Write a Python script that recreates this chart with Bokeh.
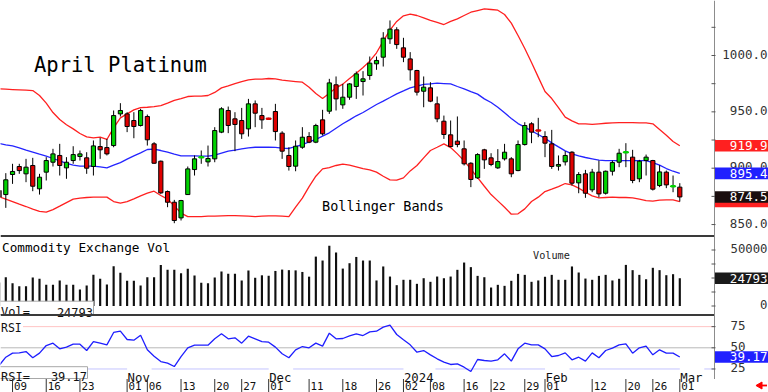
from bokeh.plotting import figure
from bokeh.models import Range1d, ColumnDataSource
from bokeh.core.properties import value
from bokeh.embed import file_html
from bokeh.resources import INLINE

# ---------------- data ----------------
dates = [
    "2023-10-05", "2023-10-06", "2023-10-09", "2023-10-10", "2023-10-11", "2023-10-12", "2023-10-13",
    "2023-10-16", "2023-10-17", "2023-10-18", "2023-10-19", "2023-10-20", "2023-10-23", "2023-10-24",
    "2023-10-25", "2023-10-26", "2023-10-27", "2023-10-30", "2023-10-31",
    "2023-11-01", "2023-11-02", "2023-11-03", "2023-11-06", "2023-11-07", "2023-11-08", "2023-11-09",
    "2023-11-10", "2023-11-13", "2023-11-14", "2023-11-15", "2023-11-16", "2023-11-17", "2023-11-20",
    "2023-11-21", "2023-11-22", "2023-11-24", "2023-11-27", "2023-11-28", "2023-11-29", "2023-11-30",
    "2023-12-01", "2023-12-04", "2023-12-05", "2023-12-06", "2023-12-07", "2023-12-08", "2023-12-11",
    "2023-12-12", "2023-12-13", "2023-12-14", "2023-12-15", "2023-12-18", "2023-12-19", "2023-12-20",
    "2023-12-21", "2023-12-22", "2023-12-26", "2023-12-27", "2023-12-28", "2023-12-29",
    "2024-01-02", "2024-01-03", "2024-01-04", "2024-01-05", "2024-01-08", "2024-01-09", "2024-01-10",
    "2024-01-11", "2024-01-12", "2024-01-16", "2024-01-17", "2024-01-18", "2024-01-19", "2024-01-22",
    "2024-01-23", "2024-01-24", "2024-01-25", "2024-01-26", "2024-01-29", "2024-01-30", "2024-01-31",
    "2024-02-01", "2024-02-02", "2024-02-05", "2024-02-06", "2024-02-07", "2024-02-08", "2024-02-09",
    "2024-02-12", "2024-02-13", "2024-02-14", "2024-02-15", "2024-02-16", "2024-02-20", "2024-02-21",
    "2024-02-22", "2024-02-23", "2024-02-26", "2024-02-27", "2024-02-28", "2024-02-29",
    "2024-03-01",
]

opens = [
    880.2, 876.6, 894.4, 901.5, 895.0, 902.4, 881.7, 896.5, 905.3, 911.3,
    900.3, 906.8, 910.4, 909.2, 901.5, 919.2, 918.3, 920.1, 948.2, 948.2,
    942.3, 937.9, 945.9, 921.6, 906.2, 879.3, 869.8, 855.9, 876.6, 898.8,
    909.5, 905.6, 908.3, 932.0, 951.2, 943.8, 942.3, 934.9, 957.1, 946.7,
    944.0, 950.3, 931.1, 911.3, 901.8, 918.6, 928.1, 923.1, 942.9, 950.6,
    974.0, 956.2, 963.0, 972.5, 976.9, 982.2, 992.6, 998.5, 1014.8, 1022.8,
    1006.8, 997.0, 986.7, 968.3, 971.3, 957.1, 941.7, 929.6, 924.0, 917.2,
    904.4, 891.4, 916.3, 909.2, 900.3, 908.3, 908.3, 897.9, 921.0, 939.4,
    933.6, 928.1, 921.6, 901.8, 905.6, 914.2, 887.0, 895.0, 880.8, 896.5,
    877.8, 897.3, 905.3, 914.0, 909.8, 890.6, 906.8, 906.8, 884.6, 896.5,
    883.8, 883.2,
]
highs = [
    881.7, 895.6, 903.9, 903.9, 908.3, 909.2, 895.0, 909.8, 917.2, 921.6,
    909.8, 919.5, 915.7, 914.2, 924.6, 926.9, 926.0, 951.2, 957.7, 949.7,
    949.7, 952.7, 947.6, 923.1, 906.8, 880.2, 871.9, 871.9, 901.5, 911.3,
    915.7, 920.1, 936.4, 954.1, 954.7, 949.7, 953.5, 961.5, 960.1, 953.5,
    944.8, 957.1, 932.8, 918.6, 924.6, 936.4, 932.0, 939.4, 951.8, 979.3,
    981.4, 974.8, 975.4, 985.8, 986.1, 999.1, 999.1, 1020.7, 1031.1, 1025.1,
    1015.7, 1003.0, 987.3, 981.4, 976.3, 963.6, 946.7, 942.3, 945.9, 924.6,
    905.3, 913.3, 917.2, 913.3, 916.9, 921.6, 909.8, 924.6, 940.8, 940.8,
    944.7, 932.8, 934.0, 911.3, 915.1, 915.1, 896.5, 898.5, 899.4, 906.8,
    897.9, 906.8, 917.2, 922.2, 916.3, 907.4, 912.1, 907.4, 902.7, 897.9,
    893.5, 886.7,
]
lows = [
    872.8, 864.8, 886.1, 895.0, 887.6, 879.6, 876.6, 889.1, 901.5, 893.5,
    890.6, 903.9, 906.8, 895.0, 893.5, 908.3, 911.3, 918.6, 945.9, 932.0,
    926.6, 937.0, 920.1, 903.9, 877.2, 865.4, 851.2, 853.6, 876.3, 893.5,
    903.9, 901.5, 905.3, 931.1, 931.1, 915.1, 926.0, 928.1, 936.4, 934.9,
    943.0, 924.6, 908.3, 897.9, 897.3, 917.2, 922.2, 922.2, 929.0, 948.2,
    951.2, 952.7, 960.7, 961.5, 964.5, 978.4, 987.3, 990.2, 1010.3, 1005.9,
    994.1, 977.8, 964.5, 954.1, 958.6, 940.8, 926.0, 918.6, 918.6, 902.4,
    883.2, 890.6, 899.4, 901.8, 899.4, 906.8, 892.0, 897.3, 920.1, 922.2,
    927.5, 909.8, 899.4, 897.9, 902.4, 884.6, 877.8, 873.7, 878.7, 874.3,
    876.6, 893.5, 900.9, 900.9, 886.7, 887.6, 893.5, 880.2, 883.2, 882.3,
    878.7, 870.4,
]
closes = [
    874.3, 889.7, 897.1, 897.9, 900.9, 884.0, 892.0, 906.8, 912.7, 902.4,
    905.3, 912.1, 912.7, 900.0, 919.8, 916.3, 912.7, 946.7, 951.2, 937.0,
    937.0, 951.2, 925.2, 904.4, 878.1, 869.8, 853.6, 871.3, 899.4, 908.3,
    910.0, 908.6, 933.4, 952.7, 937.9, 938.8, 930.5, 957.1, 948.8, 942.9,
    943.6, 932.5, 915.1, 901.5, 919.5, 927.5, 923.1, 937.9, 930.5, 975.7,
    961.5, 963.0, 974.8, 983.7, 979.3, 993.2, 995.6, 1015.4, 1023.4, 1009.7,
    998.5, 987.3, 967.5, 971.9, 959.5, 943.8, 929.9, 919.2, 921.0, 903.9,
    890.0, 912.1, 907.4, 903.3, 905.9, 914.2, 895.0, 921.0, 937.9, 932.0,
    933.2, 922.2, 901.5, 903.3, 911.3, 886.7, 894.4, 877.8, 896.5, 877.2,
    897.3, 905.0, 913.3, 914.4, 889.1, 906.2, 909.8, 881.4, 896.7, 885.2,
    884.2, 874.5,
]
bb_upper = [
    970.4, 970.1, 969.8, 969.5, 969.2, 968.9, 964.5, 957.7, 949.4, 943.2,
    938.5, 934.9, 930.8, 927.8, 926.9, 927.5, 925.5, 935.8, 944.7, 948.2,
    951.8, 953.8, 954.1, 954.7, 955.6, 957.7, 960.1, 961.8, 963.6, 963.9,
    963.9, 964.5, 967.2, 971.3, 973.1, 975.1, 976.9, 978.4, 979.0, 979.0,
    979.6, 979.3, 978.1, 977.5, 976.9, 976.3, 971.9, 966.3, 961.8, 966.6,
    971.3, 974.6, 979.6, 984.3, 989.3, 995.0, 1002.4, 1012.7, 1022.5, 1030.2,
    1035.2, 1036.7, 1035.5, 1033.4, 1031.1, 1029.3, 1027.5, 1030.2, 1032.5, 1035.5,
    1038.4, 1039.9, 1041.4, 1040.8, 1040.2, 1036.4, 1028.7, 1017.7, 1006.2, 993.8,
    980.8, 968.0, 961.8, 953.8, 945.3, 942.0, 939.4, 939.4, 938.8, 939.4,
    939.9, 940.2, 940.5, 940.5, 940.5, 940.2, 940.2, 939.4, 934.3, 929.3,
    923.7, 919.9,
]
bb_mid = [
    921.9, 920.7, 919.8, 918.1, 916.0, 914.2, 912.4, 910.7, 908.6, 906.5,
    904.2, 902.7, 901.8, 901.8, 901.8, 901.2, 900.3, 902.7, 905.0, 908.0,
    910.9, 913.6, 916.6, 916.9, 915.7, 914.2, 912.4, 910.9, 910.9, 910.9,
    910.7, 910.7, 911.5, 913.3, 915.1, 916.0, 917.2, 918.1, 918.6, 918.6,
    918.6, 918.4, 917.8, 917.5, 919.2, 921.0, 923.4, 925.5, 928.4, 931.4,
    935.5, 939.4, 942.9, 946.5, 949.4, 953.0, 956.5, 959.5, 962.7, 966.0,
    968.6, 971.3, 972.8, 974.3, 974.8, 975.4, 975.1, 974.8, 972.5, 970.4,
    968.0, 965.7, 961.5, 958.3, 954.1, 949.1, 944.1, 939.6, 936.4, 933.1,
    929.9, 926.6, 922.5, 918.9, 915.4, 912.7, 910.9, 909.5, 908.3, 907.1,
    906.8, 906.8, 906.8, 906.8, 906.8, 906.8, 906.8, 905.0, 902.7, 899.7,
    897.3, 895.4,
]
bb_lower = [
    874.6, 872.5, 870.4, 868.1, 866.0, 863.6, 861.6, 861.0, 863.3, 866.3,
    869.5, 872.5, 873.4, 874.0, 874.3, 874.3, 874.3, 870.4, 869.0, 870.4,
    872.8, 875.5, 877.8, 879.6, 875.8, 872.5, 866.6, 860.1, 857.1, 857.1,
    857.1, 857.4, 857.4, 857.7, 858.0, 858.0, 857.7, 857.4, 857.1, 857.4,
    857.7, 857.7, 857.4, 857.1, 865.4, 873.4, 883.7, 892.9, 899.4, 900.6,
    902.4, 903.6, 902.7, 901.2, 899.7, 898.5, 896.5, 892.9, 889.7, 889.4,
    891.4, 897.6, 902.4, 909.2, 915.7, 918.6, 921.6, 918.3, 912.7, 906.5,
    899.1, 891.7, 884.0, 876.6, 871.0, 865.4, 859.2, 859.5, 863.9, 870.4,
    874.3, 879.3, 881.4, 883.7, 886.4, 885.2, 882.3, 878.7, 875.5, 873.7,
    874.0, 874.3, 874.0, 874.0, 873.7, 872.5, 871.3, 870.7, 871.6, 871.9,
    871.9, 870.4,
]
volumes = [
    21000, 25700, 20400, 17700, 17700, 25400, 24300, 18900, 18900, 22800,
    18900, 18900, 14700, 18300, 27800, 24300, 19200, 35600, 29600, 22500,
    22500, 18300, 25700, 25700, 36500, 32300, 32300, 29300, 33200, 27200,
    20700, 20400, 25400, 30800, 28700, 28700, 22800, 31700, 25200, 27400,
    27000, 31300, 32500, 32000, 31800, 30400, 26200, 44100, 40600, 53900,
    47700, 33400, 38200, 43800, 40600, 40600, 22800, 35300, 26300, 18600,
    23400, 23400, 19800, 24800, 21600, 26300, 24800, 26300, 32300, 38800,
    34700, 26900, 25700, 16500, 18900, 18000, 22500, 28700, 27800, 21600,
    22800, 26100, 27800, 23400, 23400, 35300, 29900, 24500, 23400, 26900,
    27800, 22800, 24300, 36700, 32000, 27800, 23900, 34100, 32000, 27500,
    28400, 24793,
]
rsi = [
    29.1, 38.9, 43.7, 44.1, 45.6, 38.2, 43.7, 52.7, 55.5, 48.8,
    50.8, 54.3, 54.3, 46.8, 57.4, 55.5, 53.5, 68.1, 69.6, 59.8,
    59.0, 64.9, 47.6, 40.1, 33.8, 31.9, 27.9, 39.7, 50.0, 53.1,
    53.1, 53.1, 60.6, 66.5, 60.6, 61.8, 55.5, 63.7, 60.6, 57.4,
    56.6, 50.8, 42.9, 38.2, 47.6, 51.5, 50.0, 55.5, 52.0, 67.3,
    60.6, 61.0, 64.1, 66.5, 64.5, 68.8, 69.6, 74.4, 76.7, 65.7,
    59.4, 53.5, 44.8, 46.8, 41.7, 37.0, 33.0, 30.3, 31.0, 27.1,
    22.0, 36.2, 35.0, 34.2, 35.8, 42.9, 34.2, 48.8, 55.5, 53.5,
    53.5, 48.8, 39.7, 40.9, 44.0, 35.8, 38.9, 34.2, 44.0, 38.2,
    46.8, 49.6, 53.5, 54.7, 43.7, 50.0, 52.0, 41.7, 47.6, 43.7,
    43.7, 39.17,
]

price_ticks = [850, 900, 950, 1000]
price_minor_ticks = [850, 875, 900, 925, 950, 975, 1000, 1025]
vol_ticks = [0, 50000]
vol_minor_ticks = [0, 12500, 25000, 37500, 50000]
rsi_ticks = [25, 50, 75]
rsi_levels = [75, 50, 25]

date_tick_dates = [
    "2023-10-09", "2023-10-16", "2023-10-23", "2023-11-01", "2023-11-06", "2023-11-13",
    "2023-11-20", "2023-11-27", "2023-12-01", "2023-12-11", "2023-12-18", "2023-12-26",
    "2024-01-02", "2024-01-08", "2024-01-16", "2024-01-22", "2024-01-29", "2024-02-01",
    "2024-02-12", "2024-02-20", "2024-02-26", "2024-03-01",
]
date_tick_labels = ["09", "16", "23", "01", "06", "13", "20", "27", "01", "11", "18", "26",
                    "02", "08", "16", "22", "29", "01", "12", "20", "26", "01"]
month_start_dates = ["2023-11-01", "2023-12-01", "2024-01-02", "2024-02-01", "2024-03-01"]
month_labels = ["Nov", "Dec", "2024", "Feb", "Mar"]

title_text = "April Platinum"
bands_text = "Bollinger Bands"
vol_title_text = "Commodity Exchange Vol"
vol_name_text = "Volume"

# ---------------- layout (pixels of the 768 x 392 page) ----------------
W, H = 768, 392
X_FIRST, PXB = -1.44, 6.74      # x of first bar, px per bar
SPINE = 714.0
MONO = value("DejaVu Sans Mono")
GREEN, RED = "#00d200", "#e00000"


def xi(px):
    return (px - X_FIRST) / PXB


def price_at(py):
    return 1000 - (py - 55.0) / 1.127


def vol_at(py):
    return (305.5 - py) / 1.12 * 1000


def rsi_at(py):
    return 50 - (py - 347.3) / 0.847


p = figure(width=W, height=H, x_range=Range1d(xi(0), xi(W)), y_range=Range1d(H, 0),
           x_axis_location=None, y_axis_location=None, toolbar_location=None,
           output_backend="svg", min_border=0, outline_line_color=None,
           background_fill_color="white", border_fill_color="white")
p.grid.visible = False
p.extra_x_ranges = {"px": Range1d(0, W)}
p.extra_y_ranges = {
    "price": Range1d(price_at(H), price_at(0)),
    "vol": Range1d(vol_at(H), vol_at(0)),
    "rsi": Range1d(rsi_at(H), rsi_at(0)),
}

xs = list(range(len(dates)))
pos = {d: k for k, d in enumerate(dates)}


def txt(x, y, s, size, color="black", align="left", baseline="alphabetic", xr="px", yr="default", **kw):
    p.text(x=x if isinstance(x, list) else [x], y=y if isinstance(y, list) else [y],
           text=s if isinstance(s, list) else [s], x_range_name=xr, y_range_name=yr,
           text_font=MONO, text_font_size=f"{size:.1f}px", text_color=color,
           text_align=align, text_baseline=baseline, **kw)


# ---- RSI reference levels ----
p.segment(x0=[0] * 3, x1=[SPINE] * 3, y0=rsi_levels, y1=rsi_levels, x_range_name="px",
          y_range_name="rsi", line_color=["#ffc4c4", "#b8b8b8", "#c4c4ff"], line_width=1)

# month labels with white backing (breaks the 25 line)
mx = [pos[d] for d in month_start_dates]
p.quad(left=[m for m in mx], right=[m + (len(s) * 7.5 + 2) / PXB for m, s in zip(mx, month_labels)],
       top=[366.5] * len(mx), bottom=[377.0] * len(mx), fill_color="white", line_color=None)
txt(mx, [377.0] * len(mx), month_labels, 12.3, color="#111", xr="default", x_offset=0.5)

# RSI caption
p.quad(left=[-1], right=[22.5], top=[316.5], bottom=[329], x_range_name="px",
       fill_color="white", line_color=None)
txt(0.5, 327.0, "RSI", 11.5, color="#111")

# ---- Bollinger bands ----
p.line(xs, bb_upper, y_range_name="price", line_color="#ff2020", line_width=1.3)
p.line(xs, bb_lower, y_range_name="price", line_color="#ff2020", line_width=1.3)
p.line(xs, bb_mid, y_range_name="price", line_color="#2424ff", line_width=1.3)

# ---- candles ----
fills, lines, lws, tops, bots = [], [], [], [], []
for o, c in zip(opens, closes):
    col = GREEN if c >= o else RED
    fills.append(col)
    doji = abs(c - o) < 1.0
    lines.append(col if doji else "black")
    lws.append(2.0 if doji else 1.0)
    tops.append(max(o, c))
    bots.append(min(o, c))
src = ColumnDataSource(dict(x=xs, h=highs, l=lows, top=tops, bottom=bots,
                            fill=fills, line=lines, lw=lws))
p.segment(x0="x", y0="l", x1="x", y1="h", source=src, y_range_name="price",
          line_color="black", line_width=1)
p.vbar(x="x", width=0.62, top="top", bottom="bottom", source=src, y_range_name="price",
       fill_color="fill", line_color="line", line_width="lw")

# ---- volume ----
p.vbar(x=xs, width=0.32, top=volumes, bottom=0, y_range_name="vol",
       fill_color="#101010", line_color=None)

# ---- RSI ----
p.line(xs, rsi, y_range_name="rsi", line_color="#1e1eff", line_width=1.3)

# ---- texts inside panels ----
txt(33.5, 64.0, title_text, 20.5)
txt(321.5, 205.0, bands_text, 13.5)
txt(1.5, 247.3, vol_title_text, 12.7)
txt(532.5, 255.0, vol_name_text, 10.2, color="#222")

# Vol= box
p.quad(left=[-1], right=[93], top=[300.7], bottom=[314], x_range_name="px",
       fill_color="white", line_color="#a8a8a8", line_width=1)
txt(0.5, 311.8, "Vol=", 12.0, color="#111")
txt(92.5, 311.8, f"{volumes[-1]}", 12.0, color="#111", align="right")

# RSI= box
p.quad(left=[-1], right=[87], top=[366.2], bottom=[378.0], x_range_name="px",
       fill_color="white", line_color="#a8a8a8", line_width=1)
txt(0.5, 376.4, "RSI=", 12.0, color="#111")
txt(86.5, 376.4, f"{rsi[-1]:.2f}", 12.0, color="#111", align="right")

# ---- panel borders, right spine, ticks ----
p.segment(x0=[0, 0], x1=[SPINE, SPINE], y0=[235.4, 314.6], y1=[235.4, 314.6],
          x_range_name="px", line_color="#3a3a3a", line_width=2)
p.segment(x0=[SPINE], y0=[0], x1=[SPINE], y1=[378.5], x_range_name="px",
          line_color="#8c8c8c", line_width=1)
p.segment(x0=[SPINE - 3] * len(price_minor_ticks), x1=[SPINE + 1] * len(price_minor_ticks),
          y0=price_minor_ticks, y1=price_minor_ticks, x_range_name="px", y_range_name="price",
          line_color="#555", line_width=1)
p.segment(x0=[SPINE - 3] * len(vol_minor_ticks), x1=[SPINE + 1] * len(vol_minor_ticks),
          y0=vol_minor_ticks, y1=vol_minor_ticks, x_range_name="px", y_range_name="vol",
          line_color="#555", line_width=1)
p.segment(x0=[SPINE - 3] * len(rsi_ticks), x1=[SPINE + 1] * len(rsi_ticks),
          y0=rsi_ticks, y1=rsi_ticks, x_range_name="px", y_range_name="rsi",
          line_color="#555", line_width=1)

# axis labels
txt([767] * len(price_ticks), price_ticks, [f"{t:.1f}" for t in price_ticks], 12.5,
    color="#333", align="right", baseline="middle", yr="price", y_offset=-1.5)
txt([767] * len(vol_ticks), vol_ticks, [f"{t}" for t in vol_ticks], 12.3,
    color="#333", align="right", baseline="middle", yr="vol", y_offset=-1.5)
txt([745] * len(rsi_ticks), rsi_ticks, [f"{t}" for t in rsi_ticks], 12.5,
    color="#333", align="right", baseline="middle", yr="rsi", y_offset=-1.5)

# ---- last-value boxes ----
HB = 5.8  # half box height, px


def value_box(v, color, yr, scale, label=None):
    p.quad(left=[SPINE + 0.5], right=[W], top=[v + HB / scale], bottom=[v - HB / scale],
           x_range_name="px", y_range_name=yr, fill_color=color, line_color=None)
    if label is not None:
        txt(767, v, label, 12.5, color="white", align="right", baseline="middle", yr=yr)


value_box(bb_lower[-1], "#ff2020", "price", 1.127)
value_box(bb_upper[-1], "#ff2020", "price", 1.127, f"{bb_upper[-1]:.1f}")
value_box(bb_mid[-1], "#2020ff", "price", 1.127, f"{bb_mid[-1]:.1f}")
value_box(closes[-1], "#1a0e0e", "price", 1.127, f"{closes[-1]:.1f}")
value_box(volumes[-1], "#1a1a1a", "vol", 1.12 / 1000, f"{volumes[-1]}")
value_box(rsi[-1], "#2020ff", "rsi", 0.847, f"{rsi[-1]:.2f}")

# ---- date row (kept inside the canvas) ----
dx = [pos[d] for d in date_tick_dates]
p.segment(x0=dx, x1=dx, y0=[378.5] * len(dx), y1=[392] * len(dx),
          line_color="#333", line_width=1)
txt(dx, [385.8] * len(dx), date_tick_labels, 10.8, color="#111", xr="default", x_offset=1.5)

# small red arrow, bottom right
p.scatter(x=[759.5], y=[385.0], x_range_name="px", marker="triangle", size=7,
          angle=1.5708, fill_color="#ff0000", line_color="#ff0000")
p.quad(left=[761], right=[766.5], top=[384.1], bottom=[385.9], x_range_name="px",
       fill_color="#ff0000", line_color=None)

open("out.html", "w").write(file_html(p, INLINE))
